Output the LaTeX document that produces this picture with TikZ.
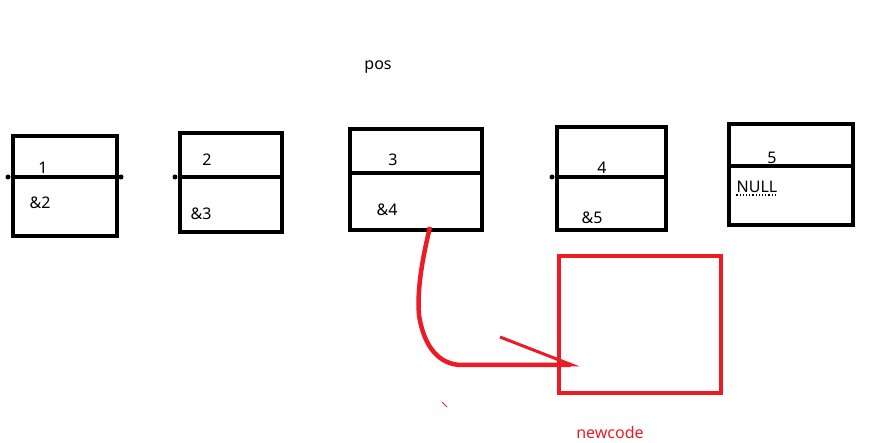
\documentclass[tikz,border=0pt]{standalone}
\usepackage{fontspec}
\setmainfont{Noto Sans}
\usetikzlibrary{arrows.meta,positioning}
\definecolor{paintred}{RGB}{237,28,36}
\tikzset{
  cell/.style={draw,line width=4pt,inner sep=0pt},
  divline/.style={line width=4pt},
  enddot/.style={fill,circle,inner sep=0pt,minimum size=5pt},
  lbl/.style={font=\fontsize{16}{19}\selectfont,inner sep=0pt},
  newbox/.style={draw=paintred,line width=4pt,inner sep=0pt,
                 minimum width=162pt,minimum height=137pt},
  handarr/.style={paintred,line width=4.5pt,
                  -{Straight Barb[harpoon,length=72pt,width=56pt,line width=3pt]}},
}

\begin{document}
\begin{tikzpicture}[x=1pt,y=-1pt]
    \useasboundingbox (0,0) rectangle (871,443);
    % list cells
    \node[cell,minimum width=104pt,minimum height=100pt] (n1) at (65,186) {};
    \node[cell,minimum width=102pt,minimum height=99pt] (n2) at (231,182.5) {};
    \node[cell,minimum width=132pt,minimum height=101pt] (n3) at (416,179.5) {};
    \node[cell,minimum width=109pt,minimum height=103pt] (n4) at (611.5,178.5) {};
    \node[cell,minimum width=124pt,minimum height=101pt] (n5) at (791,174.5) {};
    \draw[divline] (n1.west |- 0,177) -- (n1.east |- 0,177);
    \draw[divline] (n2.west |- 0,177) -- (n2.east |- 0,177);
    \draw[divline] (n3.west |- 0,173) -- (n3.east |- 0,173);
    \draw[divline] (n4.west |- 0,177) -- (n4.east |- 0,177);
    \draw[divline] (n5.west |- 0,166) -- (n5.east |- 0,166);
    \node[enddot] (e1) at ([xshift=-3pt]n1.west |- 0,177) {};
    \node[enddot] (e2) at ([xshift=2pt]n1.east |- 0,177) {};
    \node[enddot] (e3) at ([xshift=-3pt]n2.west |- 0,177) {};
    \node[enddot] (e4) at ([xshift=-3pt]n4.west |- 0,177) {};
    % data and next fields
    \node[lbl] (d1) at (43,168) {1};
    \node[lbl] (p1) at (40,203) {\&2};
    \node[lbl] (d2) at (207,160) {2};
    \node[lbl] (p2) at (201,214) {\&3};
    \node[lbl] (d3) at (393,160) {3};
    \node[lbl] (p3) at (387,210) {\&4};
    \node[lbl] (d4) at (602,168) {4};
    \node[lbl] (p4) at (592,218) {\&5};
    \node[lbl] (d5) at (772,158) {5};
    \node[lbl] (p5) at (757,187) {NULL};
    \draw[dotted,line width=1.2pt] ([yshift=-2pt]p5.south west) -- ([yshift=-2pt]p5.south east);
    \node[lbl] (pos) at (378,67) {pos};
    % new node
    \node[newbox] (nb) at (640,324.5) {};
    \node[lbl,text=paintred] (nbl) at (610,433) {newcode};
    \coordinate (from) at (430,227);
    \coordinate (to) at (580,365);
    \draw[handarr] (from) .. controls (422,260) and (417,290) .. (419,315)
        .. controls (424,348) and (440,365) .. (462,365) -- (to);
    \draw[paintred,line width=0.8pt] (442,402) -- (447,407);
\end{tikzpicture}
\end{document}
